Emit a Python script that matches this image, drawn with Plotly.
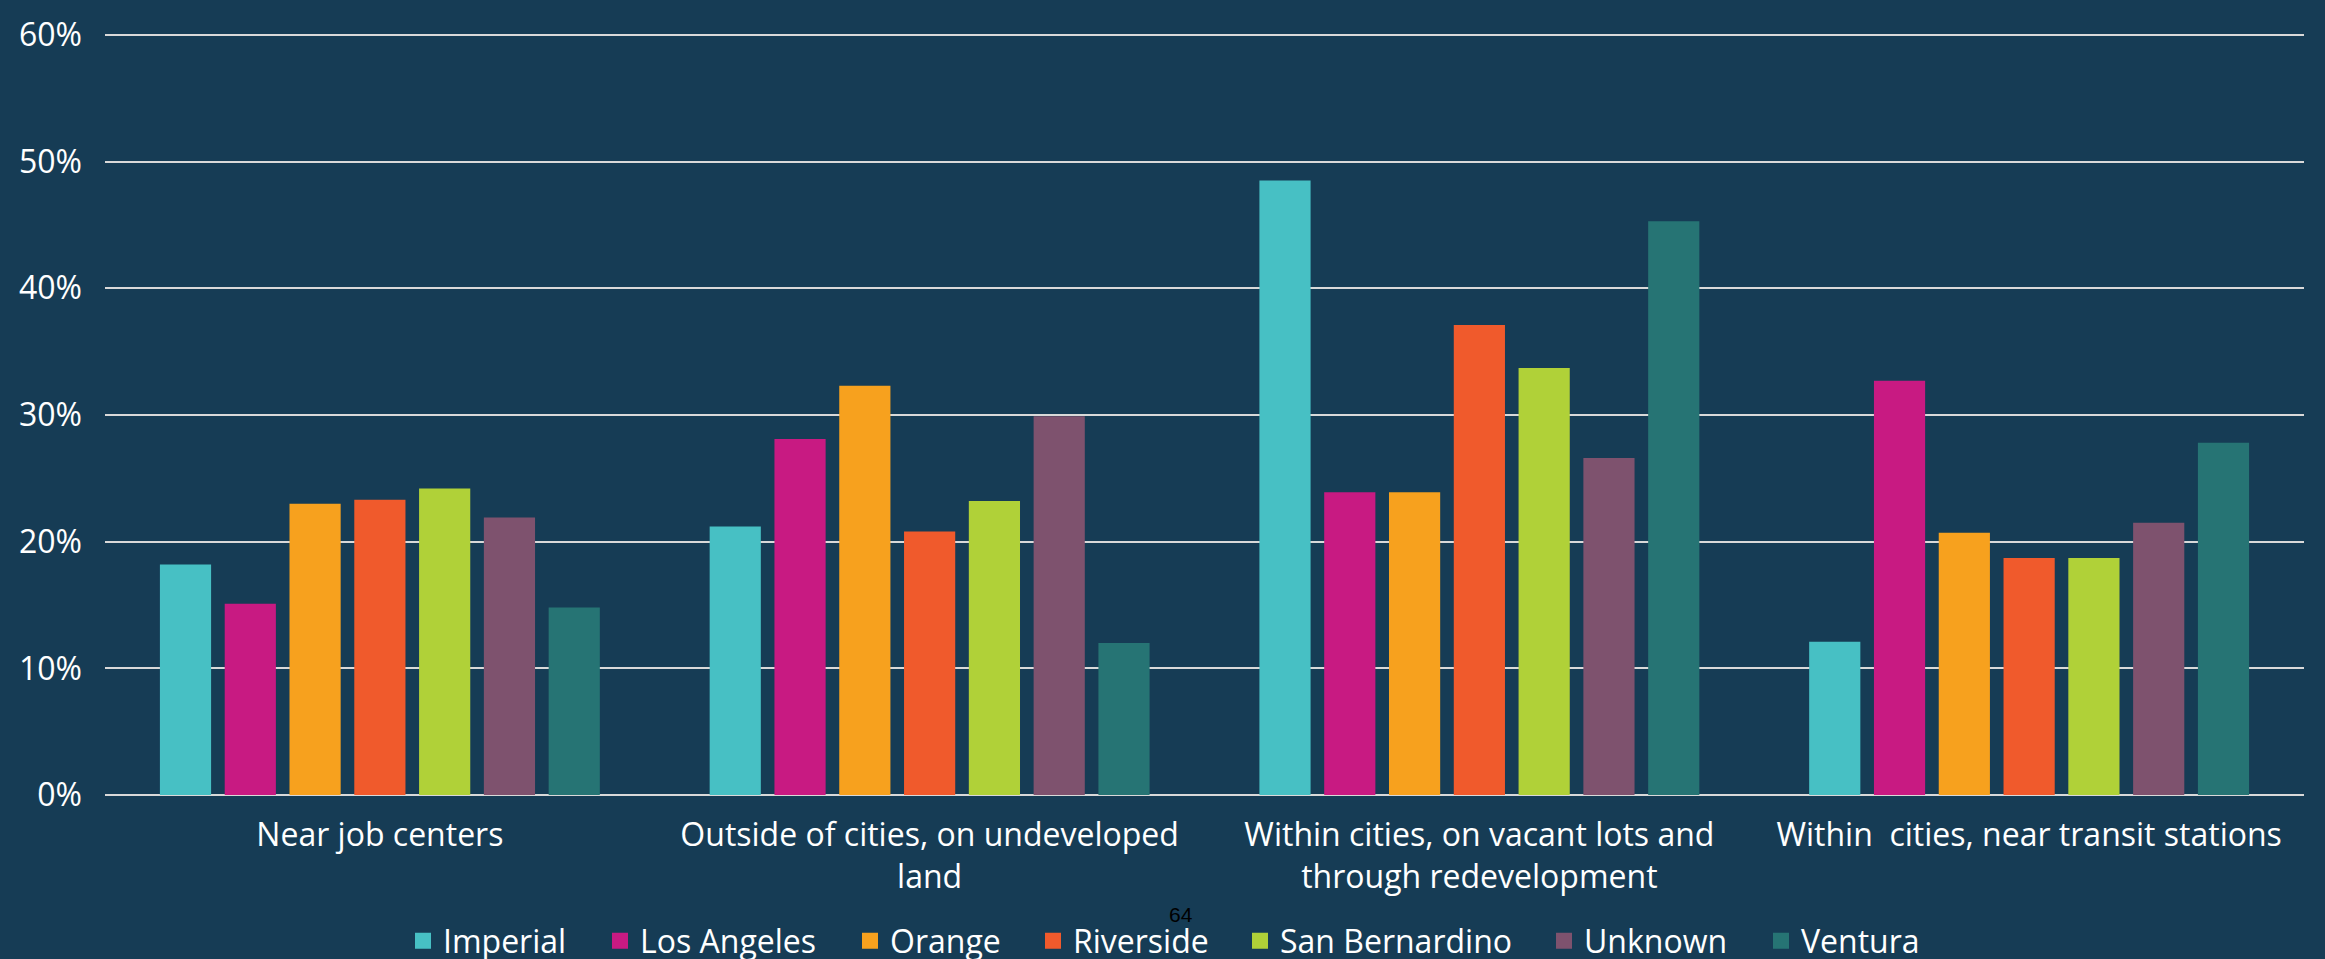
import plotly.graph_objects as go

categories = [
    "Near job centers",
    "Outside of cities, on undeveloped<br>land",
    "Within cities, on vacant lots and<br>through redevelopment",
    "Within\u00a0 cities, near transit stations",
]
series_names = ["Imperial", "Los Angeles", "Orange", "Riverside", "San Bernardino", "Unknown", "Ventura"]
imperial = [0.182, 0.212, 0.485, 0.121]
los_angeles = [0.151, 0.281, 0.239, 0.327]
orange = [0.230, 0.323, 0.239, 0.207]
riverside = [0.233, 0.208, 0.371, 0.187]
san_bernardino = [0.242, 0.232, 0.337, 0.187]
unknown = [0.219, 0.299, 0.266, 0.215]
ventura = [0.148, 0.120, 0.453, 0.278]
series_values = [imperial, los_angeles, orange, riverside, san_bernardino, unknown, ventura]
colors = ["#47C0C4", "#C81A82", "#F7A11E", "#F05A2C", "#B0D138", "#7E526E", "#267474"]
y_ticks = [0, 0.1, 0.2, 0.3, 0.4, 0.5, 0.6]
page_number = "64"

W, H = 2325, 959
BG = "#163C55"
FONT = "Open Sans"
M_T, M_B = 18, 164
plot_h = H - M_T - M_B
y_top = 0.6 * plot_h / 771.0  # keep 60% line at ~24px from top

fig = go.Figure()
for name, vals, col in zip(series_names, series_values, colors):
    fig.add_trace(go.Bar(x=categories, y=vals, name=name, marker=dict(color=col, line=dict(width=0)),
                         showlegend=False))

# legend-only entries, one legend per item for exact spacing
legend_x = [419, 616, 866, 1049, 1256, 1560, 1777]
for i, (name, col) in enumerate(zip(series_names, colors)):
    lg = "legend" if i == 0 else f"legend{i+1}"
    fig.add_trace(go.Scatter(x=[None], y=[None], mode="markers", name=name,
                             marker=dict(symbol="square", size=16, color=col),
                             legend=lg, showlegend=True))
    fig.update_layout({lg: dict(x=(legend_x[i] - 16) / W, xref="container", xanchor="left",
                                y=(H - 941) / H, yref="container", yanchor="middle",
                                orientation="h", bgcolor="rgba(0,0,0,0)", borderwidth=0,
                                font=dict(family=FONT, size=32, color="white"))})

fig.add_annotation(text=page_number, xref="paper", yref="paper",
                   x=(1181 - 105) / 2199, y=(795 - 916) / plot_h, showarrow=False,
                   xanchor="center", yanchor="middle",
                   font=dict(family="Liberation Sans", size=21, color="black"))

fig.update_layout(
    width=W, height=H,
    margin=dict(l=105, r=21, t=M_T, b=M_B),
    paper_bgcolor=BG, plot_bgcolor=BG,
    barmode="group", bargap=0.175, bargroupgap=0.21,
    font=dict(family=FONT, size=32, color="white"),
    xaxis=dict(showgrid=False, showline=False, zeroline=False, ticks="",
               tickfont=dict(family=FONT, size=32, color="white"), ticklabelstandoff=18),
    yaxis=dict(range=[0, y_top], tickvals=y_ticks, tickformat=".0%", showgrid=True,
               gridcolor="#D9D9D9", gridwidth=2, zeroline=True, zerolinecolor="#D9D9D9",
               zerolinewidth=2, showline=False, ticks="",
               tickfont=dict(family=FONT, size=32, color="white"), ticklabelstandoff=22),
)

fig.write_html("out.html")
